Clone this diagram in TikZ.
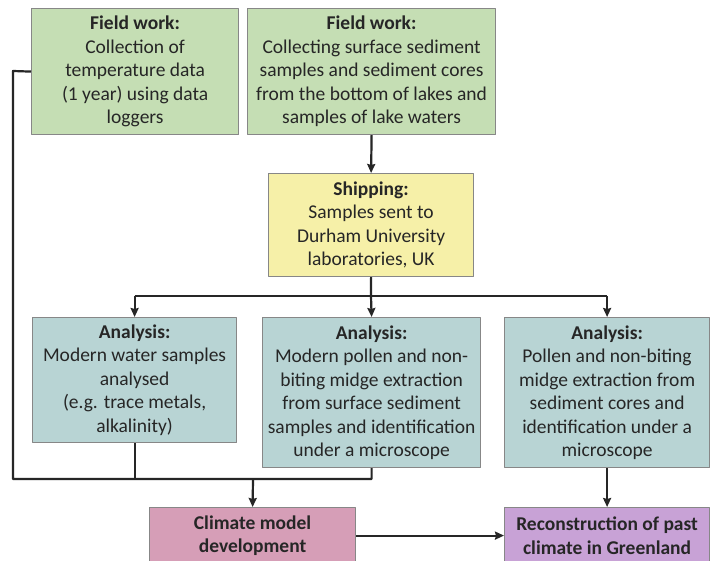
\documentclass[tikz,border=0pt]{standalone}
\usepackage{fontspec}
\setmainfont{Carlito}
\usetikzlibrary{arrows.meta,calc}
\definecolor{fieldgreen}{RGB}{197,222,180}
\definecolor{shipyellow}{RGB}{246,240,168}
\definecolor{labteal}{RGB}{184,212,212}
\definecolor{modelpink}{RGB}{214,158,183}
\definecolor{pastpurple}{RGB}{200,162,214}
\definecolor{boxline}{RGB}{135,135,135}
\definecolor{inkdark}{RGB}{38,38,38}
\tikzset{
	stage/.style={draw=boxline,line width=1.2pt,anchor=north west,align=center,
		text=inkdark,inner sep=2pt,font=\fontsize{19.5}{23.5}\selectfont},
	link/.style={draw=inkdark,line width=2.2pt},
	arrow/.style={link,->}
}
\begin{document}
\begin{tikzpicture}[x=1pt,y=-1pt,>={Stealth[length=9pt,width=8pt,inset=1pt]},line join=round]
		\useasboundingbox[fill=white] (0,0) rectangle (710,561);
		% field work
		\node[stage,fill=fieldgreen,minimum width=207pt,minimum height=126pt] (fieldA) at (31,8)
			{\textbf{Field work:}\\Collection of\\temperature data\\(1 year) using data\\loggers};
		\node[stage,fill=fieldgreen,minimum width=248pt,minimum height=126pt] (fieldB) at (247,8)
			{\textbf{Field work:}\\Collecting surface sediment\\samples and sediment cores\\from the bottom of lakes and\\samples of lake waters};
		% shipping
		\node[stage,fill=shipyellow,minimum width=205pt,minimum height=103pt] (ship) at (268,173)
			{\textbf{Shipping:}\\Samples sent to\\Durham University\\laboratories, UK};
		% analysis
		\node[stage,fill=labteal,minimum width=204pt,minimum height=125pt] (anaA) at (32,317)
			{\textbf{Analysis:}\\Modern water samples\\analysed\\(e.g. trace metals,\\alkalinity)};
		\node[stage,fill=labteal,minimum width=218pt,minimum height=150pt] (anaB) at (262,317)
			{\textbf{Analysis:}\\Modern pollen and non-\\biting midge extraction\\from surface sediment\\samples and identification\\under a microscope};
		\node[stage,fill=labteal,minimum width=205pt,minimum height=150pt] (anaC) at (504,317)
			{\textbf{Analysis:}\\Pollen and non-biting\\midge extraction from\\sediment cores and\\identification under a\\microscope};
		% results
		\node[stage,fill=modelpink,minimum width=206pt,minimum height=56pt] (model) at (149,507)
			{\textbf{Climate model}\\\textbf{development}};
		\node[stage,fill=pastpurple,minimum width=205pt,minimum height=56pt] (recon) at (504,507)
			{\textbf{Reconstruction of past}\\\textbf{climate in Greenland}};
		% connectors
		\coordinate (fork) at (371,296);
		\coordinate (bend) at (13,71);
		\coordinate (merge) at (253,479);
		\draw[arrow] (fieldB.south) -- (ship.north);
		\draw[link] (ship.south) -- (fork);
		\draw[link] (fork -| anaA.north) -- (fork -| anaC.north);
		\draw[arrow] (fork -| anaA.north) -- (anaA.north);
		\draw[arrow] (fork) -- (anaB.north);
		\draw[arrow] (fork -| anaC.north) -- (anaC.north);
		\draw[link] (fieldA.west) -- (bend) |- (merge -| anaB.south) -- (anaB.south);
		\draw[link] (anaA.south) -- (merge -| anaA.south);
		\draw[arrow] (merge) -- (model.north);
		\draw[arrow] (anaC.south) -- (recon.north);
		\draw[arrow] (model.east) -- (recon.west);
	\end{tikzpicture}
\end{document}
